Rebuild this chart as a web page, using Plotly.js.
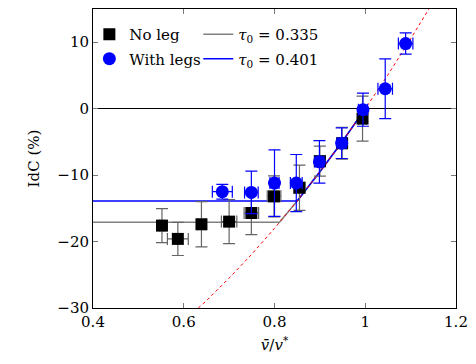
<!DOCTYPE html>
<html>
<head>
<meta charset="utf-8">
<script src="https://cdn.plot.ly/plotly-3.0.1.min.js"></script>
<style>html,body{margin:0;padding:0;background:#fff;}#chart{width:476px;height:364px;}</style>
</head>
<body>
<div id="chart"></div>
<script>
// Data
const noLegX    = [0.552, 0.587, 0.639, 0.700, 0.749, 0.799, 0.855, 0.900, 0.949, 0.994];
const noLegY    = [-17.6, -19.6, -17.4, -17.0, -15.7, -13.2, -11.9, -7.9, -5.2, -1.5];
const noLegYErr = [2.55, 2.5, 3.4, 3.3, 3.25, 3.1, 3.4, 2.25, 2.4, 3.4];
const noLegXErr = [0.005, 0.023, 0.008, 0.017, 0.016, 0.015, 0.012, 0.012, 0.01, 0.008];

const legsX    = [0.685, 0.749, 0.800, 0.848, 0.899, 0.948, 0.995, 1.044, 1.089];
const legsY    = [-12.5, -12.6, -11.2, -11.2, -8.0, -5.2, -0.15, 3.0, 9.8];
const legsYErr = [1.1, 3.2, 5.0, 4.3, 3.2, 2.3, 2.5, 4.5, 1.6];
const legsXErr = [0.022, 0.015, 0.01, 0.013, 0.01, 0.01, 0.01, 0.016, 0.016];

const fit335X = [0.4, 0.811, 0.85, 0.9, 0.95, 1.0];
const fit335Y = [-17.1, -17.1, -13.9, -9.5, -4.9, 0];
const fit401X = [0.4, 0.85, 0.9, 0.95, 1.0];
const fit401Y = [-13.9, -13.9, -9.5, -4.9, 0];

const curveX = [0.632, 0.65, 0.7, 0.75, 0.8, 0.85, 0.9, 0.95, 1.0, 1.05, 1.1, 1.141];
const curveY = [-30.0, -28.9, -25.5, -21.9, -18.0, -13.9, -9.5, -4.9, 0, 5.1, 10.5, 15.1];

const labels = ['No leg', 'With legs', '<i>τ</i><sub>0</sub> = 0.335', '<i>τ</i><sub>0</sub> = 0.401'];
const xTicks = [0.4, 0.6, 0.8, 1, 1.2];
const yTicks = [-30, -20, -10, 0, 10];

const FONT = 'DejaVu Serif';
const errGray = 'rgb(100,100,100)';

const traces = [
  {x: fit335X, y: fit335Y, mode: 'lines', name: labels[2], legend: 'legend2', legendgroup: 'c',
   line: {color: 'rgb(128,128,128)', width: 1.5}},
  {x: fit401X, y: fit401Y, mode: 'lines', name: labels[3], legend: 'legend2', legendgroup: 'd',
   line: {color: 'rgb(0,0,255)', width: 1.5}},
  {x: curveX, y: curveY, mode: 'lines', showlegend: false,
   line: {color: 'rgb(255,0,0)', width: 1, dash: '3px,3px'}},
  {x: noLegX, y: noLegY, mode: 'markers', name: labels[0], legendgroup: 'a',
   marker: {symbol: 'square', size: 12, color: 'black'},
   error_y: {type: 'data', array: noLegYErr, color: errGray, thickness: 1.2, width: 6},
   error_x: {type: 'data', array: noLegXErr, color: errGray, thickness: 1.2, width: 6}},
  {x: legsX, y: legsY, mode: 'markers', name: labels[1], legendgroup: 'b',
   marker: {symbol: 'circle', size: 13, color: 'rgb(0,0,255)'},
   error_y: {type: 'data', array: legsYErr, color: 'rgb(0,0,255)', thickness: 1.2, width: 6},
   error_x: {type: 'data', array: legsXErr, color: 'rgb(0,0,255)', thickness: 1.2, width: 6}}
];

const axisCommon = {
  showgrid: false, ticks: 'inside', ticklen: 5, tickcolor: 'rgb(120,120,120)',
  showline: true, linecolor: 'black', linewidth: 1, mirror: 'ticks', automargin: true,
  tickfont: {family: FONT, size: 15, color: 'black'}
};

const layout = {
  width: 476, height: 364,
  margin: {l: 93, r: 18, t: 8, b: 56},
  paper_bgcolor: 'white', plot_bgcolor: 'white',
  font: {family: FONT, size: 15, color: 'black'},
  xaxis: Object.assign({}, axisCommon, {
    range: [0.4, 1.2], tickvals: xTicks, ticktext: xTicks.map(String), zeroline: false,
    title: {text: '<i>v̄</i>/<i>v</i><sup>*</sup>', font: {family: FONT, size: 15}, standoff: 9}
  }),
  yaxis: Object.assign({}, axisCommon, {
    range: [-30, 15], tickvals: yTicks, zeroline: true, zerolinecolor: 'black', zerolinewidth: 1,
    title: {text: 'IdC (%)', font: {family: FONT, size: 15}, standoff: 14}
  }),
  showlegend: true,
  legend: {x: -0.01, y: 0.97, xanchor: 'left', yanchor: 'top', bgcolor: 'rgba(0,0,0,0)',
           font: {family: FONT, size: 15}, tracegroupgap: 2, itemwidth: 30},
  legend2: {x: 0.29, y: 0.97, xanchor: 'left', yanchor: 'top', bgcolor: 'rgba(0,0,0,0)',
           font: {family: FONT, size: 15}, tracegroupgap: 2, itemwidth: 30}
};

Plotly.newPlot('chart', traces, layout, {displayModeBar: false, staticPlot: true});
</script>
</body>
</html>
